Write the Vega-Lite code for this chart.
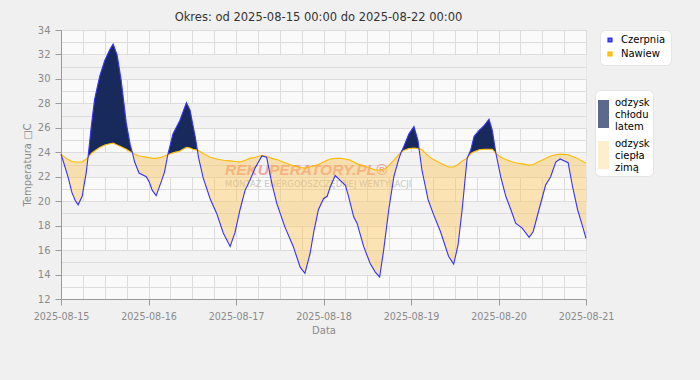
{
  "$schema": "https://vega.github.io/schema/vega-lite/v6.json",
  "width": 525,
  "height": 269,
  "autosize": {"type": "none"},
  "padding": {"left": 61, "top": 30, "right": 114, "bottom": 81},
  "background": "#f0f0f0",
  "config": {
    "font": "DejaVu Sans",
    "view": {"fill": "#fafafa", "stroke": null},
    "axis": {
      "domainColor": "#9a9a9a",
      "tickColor": "#9a9a9a",
      "labelColor": "#8a8a8a",
      "titleColor": "#8a8a8a",
      "gridColor": "#dcdcdc",
      "labelFontSize": 10,
      "titleFontSize": 10,
      "titleFontWeight": "normal",
      "tickSize": 6
    }
  },
  "title": {
    "text": "Okres: od 2025-08-15 00:00 do 2025-08-22 00:00",
    "fontSize": 11.5,
    "fontWeight": "normal",
    "color": "#333333",
    "anchor": "middle",
    "offset": 2,
    "dx": -5
  },
  "data": {
    "values": [
      {"czas": "2025-08-15T00:00", "czerpnia": 23.85, "nawiew": 23.85, "seg": 1, "rodzaj": "odzysk ciepła zimą"},
      {"czas": "2025-08-15T01:00", "czerpnia": 22.9, "nawiew": 23.6, "seg": 1, "rodzaj": "odzysk ciepła zimą"},
      {"czas": "2025-08-15T02:00", "czerpnia": 21.9, "nawiew": 23.4, "seg": 1, "rodzaj": "odzysk ciepła zimą"},
      {"czas": "2025-08-15T03:00", "czerpnia": 20.7, "nawiew": 23.25, "seg": 1, "rodzaj": "odzysk ciepła zimą"},
      {"czas": "2025-08-15T04:00", "czerpnia": 20.0, "nawiew": 23.2, "seg": 1, "rodzaj": "odzysk ciepła zimą"},
      {"czas": "2025-08-15T04:42", "czerpnia": 19.7, "nawiew": 23.2, "seg": 1, "rodzaj": "odzysk ciepła zimą"},
      {"czas": "2025-08-15T05:48", "czerpnia": 20.4, "nawiew": 23.2, "seg": 1, "rodzaj": "odzysk ciepła zimą"},
      {"czas": "2025-08-15T06:54", "czerpnia": 22.3, "nawiew": 23.45, "seg": 1, "rodzaj": "odzysk ciepła zimą"},
      {"czas": "2025-08-15T07:24", "czerpnia": 23.55, "nawiew": 23.55, "seg": 1, "rodzaj": "odzysk ciepła zimą"},

      {"czas": "2025-08-15T07:24", "czerpnia": 23.55, "nawiew": 23.55, "seg": 2, "rodzaj": "odzysk chłodu latem"},
      {"czas": "2025-08-15T08:18", "czerpnia": 26.1, "nawiew": 23.9, "seg": 2, "rodzaj": "odzysk chłodu latem"},
      {"czas": "2025-08-15T09:12", "czerpnia": 28.3, "nawiew": 24.1, "seg": 2, "rodzaj": "odzysk chłodu latem"},
      {"czas": "2025-08-15T10:36", "czerpnia": 30.2, "nawiew": 24.4, "seg": 2, "rodzaj": "odzysk chłodu latem"},
      {"czas": "2025-08-15T12:00", "czerpnia": 31.5, "nawiew": 24.6, "seg": 2, "rodzaj": "odzysk chłodu latem"},
      {"czas": "2025-08-15T13:24", "czerpnia": 32.4, "nawiew": 24.7, "seg": 2, "rodzaj": "odzysk chłodu latem"},
      {"czas": "2025-08-15T14:18", "czerpnia": 32.85, "nawiew": 24.75, "seg": 2, "rodzaj": "odzysk chłodu latem"},
      {"czas": "2025-08-15T15:24", "czerpnia": 31.95, "nawiew": 24.6, "seg": 2, "rodzaj": "odzysk chłodu latem"},
      {"czas": "2025-08-15T16:30", "czerpnia": 29.9, "nawiew": 24.45, "seg": 2, "rodzaj": "odzysk chłodu latem"},
      {"czas": "2025-08-15T17:54", "czerpnia": 26.4, "nawiew": 24.25, "seg": 2, "rodzaj": "odzysk chłodu latem"},
      {"czas": "2025-08-15T19:00", "czerpnia": 24.6, "nawiew": 24.05, "seg": 2, "rodzaj": "odzysk chłodu latem"},
      {"czas": "2025-08-15T19:36", "czerpnia": 23.95, "nawiew": 23.95, "seg": 2, "rodzaj": "odzysk chłodu latem"},

      {"czas": "2025-08-15T19:36", "czerpnia": 23.95, "nawiew": 23.95, "seg": 3, "rodzaj": "odzysk ciepła zimą"},
      {"czas": "2025-08-15T20:12", "czerpnia": 23.2, "nawiew": 23.85, "seg": 3, "rodzaj": "odzysk ciepła zimą"},
      {"czas": "2025-08-15T21:24", "czerpnia": 22.3, "nawiew": 23.7, "seg": 3, "rodzaj": "odzysk ciepła zimą"},
      {"czas": "2025-08-15T23:24", "czerpnia": 22.0, "nawiew": 23.6, "seg": 3, "rodzaj": "odzysk ciepła zimą"},
      {"czas": "2025-08-16T00:18", "czerpnia": 21.5, "nawiew": 23.55, "seg": 3, "rodzaj": "odzysk ciepła zimą"},
      {"czas": "2025-08-16T01:00", "czerpnia": 20.9, "nawiew": 23.5, "seg": 3, "rodzaj": "odzysk ciepła zimą"},
      {"czas": "2025-08-16T02:06", "czerpnia": 20.45, "nawiew": 23.5, "seg": 3, "rodzaj": "odzysk ciepła zimą"},
      {"czas": "2025-08-16T03:30", "czerpnia": 21.6, "nawiew": 23.6, "seg": 3, "rodzaj": "odzysk ciepła zimą"},
      {"czas": "2025-08-16T04:24", "czerpnia": 22.4, "nawiew": 23.7, "seg": 3, "rodzaj": "odzysk ciepła zimą"},
      {"czas": "2025-08-16T05:18", "czerpnia": 23.8, "nawiew": 23.8, "seg": 3, "rodzaj": "odzysk ciepła zimą"},

      {"czas": "2025-08-16T05:18", "czerpnia": 23.8, "nawiew": 23.8, "seg": 4, "rodzaj": "odzysk chłodu latem"},
      {"czas": "2025-08-16T06:42", "czerpnia": 25.5, "nawiew": 23.95, "seg": 4, "rodzaj": "odzysk chłodu latem"},
      {"czas": "2025-08-16T08:36", "czerpnia": 26.6, "nawiew": 24.1, "seg": 4, "rodzaj": "odzysk chłodu latem"},
      {"czas": "2025-08-16T10:24", "czerpnia": 28.05, "nawiew": 24.4, "seg": 4, "rodzaj": "odzysk chłodu latem"},
      {"czas": "2025-08-16T11:24", "czerpnia": 27.45, "nawiew": 24.35, "seg": 4, "rodzaj": "odzysk chłodu latem"},
      {"czas": "2025-08-16T12:12", "czerpnia": 26.2, "nawiew": 24.25, "seg": 4, "rodzaj": "odzysk chłodu latem"},
      {"czas": "2025-08-16T12:48", "czerpnia": 25.3, "nawiew": 24.2, "seg": 4, "rodzaj": "odzysk chłodu latem"},
      {"czas": "2025-08-16T13:24", "czerpnia": 24.2, "nawiew": 24.2, "seg": 4, "rodzaj": "odzysk chłodu latem"},

      {"czas": "2025-08-16T13:24", "czerpnia": 24.2, "nawiew": 24.2, "seg": 5, "rodzaj": "odzysk ciepła zimą"},
      {"czas": "2025-08-16T13:42", "czerpnia": 23.6, "nawiew": 24.15, "seg": 5, "rodzaj": "odzysk ciepła zimą"},
      {"czas": "2025-08-16T15:00", "czerpnia": 21.9, "nawiew": 23.9, "seg": 5, "rodzaj": "odzysk ciepła zimą"},
      {"czas": "2025-08-16T16:54", "czerpnia": 20.2, "nawiew": 23.6, "seg": 5, "rodzaj": "odzysk ciepła zimą"},
      {"czas": "2025-08-16T18:42", "czerpnia": 19.0, "nawiew": 23.45, "seg": 5, "rodzaj": "odzysk ciepła zimą"},
      {"czas": "2025-08-16T20:30", "czerpnia": 17.4, "nawiew": 23.35, "seg": 5, "rodzaj": "odzysk ciepła zimą"},
      {"czas": "2025-08-16T22:24", "czerpnia": 16.3, "nawiew": 23.3, "seg": 5, "rodzaj": "odzysk ciepła zimą"},
      {"czas": "2025-08-16T23:42", "czerpnia": 17.4, "nawiew": 23.25, "seg": 5, "rodzaj": "odzysk ciepła zimą"},
      {"czas": "2025-08-17T01:06", "czerpnia": 19.3, "nawiew": 23.2, "seg": 5, "rodzaj": "odzysk ciepła zimą"},
      {"czas": "2025-08-17T02:30", "czerpnia": 20.9, "nawiew": 23.35, "seg": 5, "rodzaj": "odzysk ciepła zimą"},
      {"czas": "2025-08-17T03:48", "czerpnia": 21.7, "nawiew": 23.5, "seg": 5, "rodzaj": "odzysk ciepła zimą"},
      {"czas": "2025-08-17T05:12", "czerpnia": 22.7, "nawiew": 23.6, "seg": 5, "rodzaj": "odzysk ciepła zimą"},
      {"czas": "2025-08-17T07:06", "czerpnia": 23.7, "nawiew": 23.75, "seg": 5, "rodzaj": "odzysk ciepła zimą"},
      {"czas": "2025-08-17T08:24", "czerpnia": 23.6, "nawiew": 23.65, "seg": 5, "rodzaj": "odzysk ciepła zimą"},
      {"czas": "2025-08-17T09:48", "czerpnia": 21.5, "nawiew": 23.5, "seg": 5, "rodzaj": "odzysk ciepła zimą"},
      {"czas": "2025-08-17T11:12", "czerpnia": 19.8, "nawiew": 23.4, "seg": 5, "rodzaj": "odzysk ciepła zimą"},
      {"czas": "2025-08-17T13:24", "czerpnia": 17.9, "nawiew": 23.15, "seg": 5, "rodzaj": "odzysk ciepła zimą"},
      {"czas": "2025-08-17T15:42", "czerpnia": 16.3, "nawiew": 22.9, "seg": 5, "rodzaj": "odzysk ciepła zimą"},
      {"czas": "2025-08-17T17:36", "czerpnia": 14.6, "nawiew": 22.75, "seg": 5, "rodzaj": "odzysk ciepła zimą"},
      {"czas": "2025-08-17T18:54", "czerpnia": 14.1, "nawiew": 22.7, "seg": 5, "rodzaj": "odzysk ciepła zimą"},
      {"czas": "2025-08-17T20:18", "czerpnia": 15.7, "nawiew": 22.8, "seg": 5, "rodzaj": "odzysk ciepła zimą"},
      {"czas": "2025-08-17T21:24", "czerpnia": 17.6, "nawiew": 22.9, "seg": 5, "rodzaj": "odzysk ciepła zimą"},
      {"czas": "2025-08-17T22:36", "czerpnia": 19.3, "nawiew": 23.0, "seg": 5, "rodzaj": "odzysk ciepła zimą"},
      {"czas": "2025-08-18T00:00", "czerpnia": 20.2, "nawiew": 23.2, "seg": 5, "rodzaj": "odzysk ciepła zimą"},
      {"czas": "2025-08-18T01:00", "czerpnia": 20.4, "nawiew": 23.35, "seg": 5, "rodzaj": "odzysk ciepła zimą"},
      {"czas": "2025-08-18T01:54", "czerpnia": 21.2, "nawiew": 23.45, "seg": 5, "rodzaj": "odzysk ciepła zimą"},
      {"czas": "2025-08-18T03:12", "czerpnia": 22.1, "nawiew": 23.5, "seg": 5, "rodzaj": "odzysk ciepła zimą"},
      {"czas": "2025-08-18T04:36", "czerpnia": 21.7, "nawiew": 23.5, "seg": 5, "rodzaj": "odzysk ciepła zimą"},
      {"czas": "2025-08-18T06:00", "czerpnia": 21.3, "nawiew": 23.45, "seg": 5, "rodzaj": "odzysk ciepła zimą"},
      {"czas": "2025-08-18T06:54", "czerpnia": 20.35, "nawiew": 23.4, "seg": 5, "rodzaj": "odzysk ciepła zimą"},
      {"czas": "2025-08-18T08:18", "czerpnia": 18.7, "nawiew": 23.2, "seg": 5, "rodzaj": "odzysk ciepła zimą"},
      {"czas": "2025-08-18T09:12", "czerpnia": 18.2, "nawiew": 23.05, "seg": 5, "rodzaj": "odzysk ciepła zimą"},
      {"czas": "2025-08-18T11:00", "czerpnia": 16.3, "nawiew": 22.9, "seg": 5, "rodzaj": "odzysk ciepła zimą"},
      {"czas": "2025-08-18T12:48", "czerpnia": 14.9, "nawiew": 22.7, "seg": 5, "rodzaj": "odzysk ciepła zimą"},
      {"czas": "2025-08-18T14:12", "czerpnia": 14.2, "nawiew": 22.55, "seg": 5, "rodzaj": "odzysk ciepła zimą"},
      {"czas": "2025-08-18T15:24", "czerpnia": 13.8, "nawiew": 22.55, "seg": 5, "rodzaj": "odzysk ciepła zimą"},
      {"czas": "2025-08-18T16:30", "czerpnia": 16.0, "nawiew": 22.55, "seg": 5, "rodzaj": "odzysk ciepła zimą"},
      {"czas": "2025-08-18T17:54", "czerpnia": 19.3, "nawiew": 22.9, "seg": 5, "rodzaj": "odzysk ciepła zimą"},
      {"czas": "2025-08-18T19:18", "czerpnia": 22.0, "nawiew": 23.35, "seg": 5, "rodzaj": "odzysk ciepła zimą"},
      {"czas": "2025-08-18T20:36", "czerpnia": 23.4, "nawiew": 23.8, "seg": 5, "rodzaj": "odzysk ciepła zimą"},
      {"czas": "2025-08-18T21:18", "czerpnia": 24.0, "nawiew": 24.0, "seg": 5, "rodzaj": "odzysk ciepła zimą"},

      {"czas": "2025-08-18T21:18", "czerpnia": 24.0, "nawiew": 24.0, "seg": 6, "rodzaj": "odzysk chłodu latem"},
      {"czas": "2025-08-18T22:00", "czerpnia": 24.45, "nawiew": 24.15, "seg": 6, "rodzaj": "odzysk chłodu latem"},
      {"czas": "2025-08-18T23:24", "czerpnia": 25.5, "nawiew": 24.3, "seg": 6, "rodzaj": "odzysk chłodu latem"},
      {"czas": "2025-08-19T00:48", "czerpnia": 26.1, "nawiew": 24.35, "seg": 6, "rodzaj": "odzysk chłodu latem"},
      {"czas": "2025-08-19T01:54", "czerpnia": 25.0, "nawiew": 24.3, "seg": 6, "rodzaj": "odzysk chłodu latem"},
      {"czas": "2025-08-19T02:12", "czerpnia": 24.3, "nawiew": 24.3, "seg": 6, "rodzaj": "odzysk chłodu latem"},

      {"czas": "2025-08-19T02:12", "czerpnia": 24.3, "nawiew": 24.3, "seg": 7, "rodzaj": "odzysk ciepła zimą"},
      {"czas": "2025-08-19T03:00", "czerpnia": 22.55, "nawiew": 24.2, "seg": 7, "rodzaj": "odzysk ciepła zimą"},
      {"czas": "2025-08-19T04:42", "czerpnia": 20.1, "nawiew": 23.7, "seg": 7, "rodzaj": "odzysk ciepła zimą"},
      {"czas": "2025-08-19T06:12", "czerpnia": 18.9, "nawiew": 23.4, "seg": 7, "rodzaj": "odzysk ciepła zimą"},
      {"czas": "2025-08-19T08:06", "czerpnia": 17.5, "nawiew": 23.1, "seg": 7, "rodzaj": "odzysk ciepła zimą"},
      {"czas": "2025-08-19T10:18", "czerpnia": 15.5, "nawiew": 22.8, "seg": 7, "rodzaj": "odzysk ciepła zimą"},
      {"czas": "2025-08-19T11:42", "czerpnia": 14.85, "nawiew": 22.8, "seg": 7, "rodzaj": "odzysk ciepła zimą"},
      {"czas": "2025-08-19T12:54", "czerpnia": 16.4, "nawiew": 23.0, "seg": 7, "rodzaj": "odzysk ciepła zimą"},
      {"czas": "2025-08-19T14:06", "czerpnia": 19.5, "nawiew": 23.3, "seg": 7, "rodzaj": "odzysk ciepła zimą"},
      {"czas": "2025-08-19T15:00", "czerpnia": 22.3, "nawiew": 23.45, "seg": 7, "rodzaj": "odzysk ciepła zimą"},
      {"czas": "2025-08-19T15:24", "czerpnia": 23.5, "nawiew": 23.5, "seg": 7, "rodzaj": "odzysk ciepła zimą"},

      {"czas": "2025-08-19T15:24", "czerpnia": 23.5, "nawiew": 23.5, "seg": 8, "rodzaj": "odzysk chłodu latem"},
      {"czas": "2025-08-19T16:24", "czerpnia": 24.2, "nawiew": 23.9, "seg": 8, "rodzaj": "odzysk chłodu latem"},
      {"czas": "2025-08-19T17:18", "czerpnia": 25.3, "nawiew": 24.05, "seg": 8, "rodzaj": "odzysk chłodu latem"},
      {"czas": "2025-08-19T18:42", "czerpnia": 25.8, "nawiew": 24.2, "seg": 8, "rodzaj": "odzysk chłodu latem"},
      {"czas": "2025-08-19T20:06", "czerpnia": 26.2, "nawiew": 24.25, "seg": 8, "rodzaj": "odzysk chłodu latem"},
      {"czas": "2025-08-19T21:24", "czerpnia": 26.7, "nawiew": 24.25, "seg": 8, "rodzaj": "odzysk chłodu latem"},
      {"czas": "2025-08-19T22:18", "czerpnia": 25.8, "nawiew": 24.25, "seg": 8, "rodzaj": "odzysk chłodu latem"},
      {"czas": "2025-08-19T23:18", "czerpnia": 23.9, "nawiew": 23.9, "seg": 8, "rodzaj": "odzysk chłodu latem"},

      {"czas": "2025-08-19T23:18", "czerpnia": 23.9, "nawiew": 23.9, "seg": 9, "rodzaj": "odzysk ciepła zimą"},
      {"czas": "2025-08-20T00:36", "czerpnia": 22.0, "nawiew": 23.6, "seg": 9, "rodzaj": "odzysk ciepła zimą"},
      {"czas": "2025-08-20T02:00", "czerpnia": 20.4, "nawiew": 23.4, "seg": 9, "rodzaj": "odzysk ciepła zimą"},
      {"czas": "2025-08-20T03:24", "czerpnia": 19.3, "nawiew": 23.25, "seg": 9, "rodzaj": "odzysk ciepła zimą"},
      {"czas": "2025-08-20T04:42", "czerpnia": 18.2, "nawiew": 23.15, "seg": 9, "rodzaj": "odzysk ciepła zimą"},
      {"czas": "2025-08-20T06:30", "czerpnia": 17.8, "nawiew": 23.05, "seg": 9, "rodzaj": "odzysk ciepła zimą"},
      {"czas": "2025-08-20T08:24", "czerpnia": 17.05, "nawiew": 22.95, "seg": 9, "rodzaj": "odzysk ciepła zimą"},
      {"czas": "2025-08-20T09:30", "czerpnia": 17.5, "nawiew": 23.0, "seg": 9, "rodzaj": "odzysk ciepła zimą"},
      {"czas": "2025-08-20T11:06", "czerpnia": 19.3, "nawiew": 23.25, "seg": 9, "rodzaj": "odzysk ciepła zimą"},
      {"czas": "2025-08-20T12:54", "czerpnia": 21.3, "nawiew": 23.5, "seg": 9, "rodzaj": "odzysk ciepła zimą"},
      {"czas": "2025-08-20T14:18", "czerpnia": 22.0, "nawiew": 23.7, "seg": 9, "rodzaj": "odzysk ciepła zimą"},
      {"czas": "2025-08-20T15:42", "czerpnia": 23.2, "nawiew": 23.8, "seg": 9, "rodzaj": "odzysk ciepła zimą"},
      {"czas": "2025-08-20T16:54", "czerpnia": 23.45, "nawiew": 23.85, "seg": 9, "rodzaj": "odzysk ciepła zimą"},
      {"czas": "2025-08-20T19:06", "czerpnia": 23.15, "nawiew": 23.8, "seg": 9, "rodzaj": "odzysk ciepła zimą"},
      {"czas": "2025-08-20T20:18", "czerpnia": 21.2, "nawiew": 23.65, "seg": 9, "rodzaj": "odzysk ciepła zimą"},
      {"czas": "2025-08-20T21:42", "czerpnia": 19.3, "nawiew": 23.5, "seg": 9, "rodzaj": "odzysk ciepła zimą"},
      {"czas": "2025-08-20T23:06", "czerpnia": 17.9, "nawiew": 23.25, "seg": 9, "rodzaj": "odzysk ciepła zimą"},
      {"czas": "2025-08-21T00:00", "czerpnia": 16.95, "nawiew": 23.1, "seg": 9, "rodzaj": "odzysk ciepła zimą"}
    ]
  },
  "layer": [
    {
      "data": {"values": [{"napis": "REKUPERATORY.PL®"}]},
      "mark": {"type": "text", "align": "left", "baseline": "alphabetic", "font": "Liberation Sans, sans-serif", "fontSize": 15.5, "fontWeight": "bold", "fontStyle": "italic", "color": "#f06a5f", "opacity": 0.55},
      "encoding": {
        "x": {"datum": {"year": 2025, "month": 8, "date": 16, "hours": 21}, "type": "temporal",
          "scale": {"domain": [{"year": 2025, "month": 8, "date": 15}, {"year": 2025, "month": 8, "date": 21}]},
          "axis": {"orient": "top", "values": [
            {"year": 2025, "month": 8, "date": 15, "hours": 6}, {"year": 2025, "month": 8, "date": 15, "hours": 12}, {"year": 2025, "month": 8, "date": 15, "hours": 18},
            {"year": 2025, "month": 8, "date": 16, "hours": 6}, {"year": 2025, "month": 8, "date": 16, "hours": 12}, {"year": 2025, "month": 8, "date": 16, "hours": 18},
            {"year": 2025, "month": 8, "date": 17, "hours": 6}, {"year": 2025, "month": 8, "date": 17, "hours": 12}, {"year": 2025, "month": 8, "date": 17, "hours": 18},
            {"year": 2025, "month": 8, "date": 18, "hours": 6}, {"year": 2025, "month": 8, "date": 18, "hours": 12}, {"year": 2025, "month": 8, "date": 18, "hours": 18},
            {"year": 2025, "month": 8, "date": 19, "hours": 6}, {"year": 2025, "month": 8, "date": 19, "hours": 12}, {"year": 2025, "month": 8, "date": 19, "hours": 18},
            {"year": 2025, "month": 8, "date": 20, "hours": 6}, {"year": 2025, "month": 8, "date": 20, "hours": 12}, {"year": 2025, "month": 8, "date": 20, "hours": 18}],
            "grid": true, "domain": false, "ticks": false, "labels": false, "title": null}},
        "y": {"datum": 22.14, "type": "quantitative", "scale": {"domain": [12, 34], "nice": false, "zero": false},
          "axis": {"orient": "right", "values": [15, 19, 23, 27, 31], "grid": true, "gridWidth": 24.45, "gridColor": "#f2f2f2", "domain": false, "ticks": false, "labels": false, "title": null}},
        "text": {"field": "napis"}
      }
    },
    {
      "data": {"values": [{"napis": "MONTAŻ ENERGOOSZCZĘDNEJ WENTYLACJI"}]},
      "mark": {"type": "text", "align": "left", "baseline": "alphabetic", "fontSize": 8.5, "color": "#b8b8b8", "opacity": 0.8},
      "encoding": {
        "x": {"datum": {"year": 2025, "month": 8, "date": 16, "hours": 21}, "type": "temporal",
          "scale": {"domain": [{"year": 2025, "month": 8, "date": 15}, {"year": 2025, "month": 8, "date": 21}]}, "axis": null},
        "y": {"datum": 21.16, "type": "quantitative", "scale": {"domain": [12, 34], "nice": false, "zero": false},
          "axis": {"orient": "right", "values": [13, 15, 17, 19, 21, 23, 25, 27, 29, 31, 33], "grid": true, "domain": false, "ticks": false, "labels": false, "title": null}},
        "text": {"field": "napis"}
      }
    },
    {
      "mark": {"type": "area"},
      "encoding": {
        "x": {"field": "czas", "type": "temporal", "scale": {"domain": [{"year": 2025, "month": 8, "date": 15}, {"year": 2025, "month": 8, "date": 21}]},
          "axis": {"orient": "bottom", "values": [
            {"year": 2025, "month": 8, "date": 15}, {"year": 2025, "month": 8, "date": 16}, {"year": 2025, "month": 8, "date": 17},
            {"year": 2025, "month": 8, "date": 18}, {"year": 2025, "month": 8, "date": 19}, {"year": 2025, "month": 8, "date": 20},
            {"year": 2025, "month": 8, "date": 21}],
            "grid": true, "format": "%Y-%m-%d", "labelFlush": false, "labelOverlap": false, "labelFontSize": 9.6, "labelPadding": 6, "title": "Data", "titlePadding": 5}},
        "y": {"field": "czerpnia", "type": "quantitative", "scale": {"domain": [12, 34], "nice": false, "zero": false},
          "axis": {"orient": "left", "values": [12, 14, 16, 18, 20, 22, 24, 26, 28, 30, 32, 34], "grid": true, "labelPadding": 5, "title": "Temperatura □C", "titlePadding": 5}},
        "y2": {"field": "nawiew"},
        "fill": {"field": "rodzaj", "type": "nominal",
          "scale": {"domain": ["odzysk chłodu latem", "odzysk ciepła zimą"], "range": ["#172a5b", "rgba(255,196,80,0.42)"]},
          "legend": {"title": null, "orient": "none", "legendX": 534, "legendY": 60, "fillColor": "white", "strokeColor": "#e4e4e4", "cornerRadius": 5, "padding": 3,
            "symbolType": "M-0.55,-0.3H0.55V2.5H-0.55Z", "symbolSize": 400, "symbolOpacity": 0.7, "symbolStrokeWidth": 0, "symbolOffset": -4.5,
            "labelOffset": 1.5, "labelFontSize": 10, "labelColor": "#000000", "rowPadding": 2,
            "labelExpr": "datum.label == 'odzysk chłodu latem' ? ['odzysk', 'chłodu', 'latem'] : ['odzysk', 'ciepła', 'zimą']"}},
        "detail": {"field": "seg", "type": "nominal"}
      }
    },
    {
      "mark": {"type": "line", "strokeWidth": 1.1},
      "encoding": {
        "x": {"field": "czas", "type": "temporal", "axis": null},
        "y": {"field": "nawiew", "type": "quantitative", "axis": null},
        "color": {"datum": "Nawiew", "type": "nominal",
          "scale": {"domain": ["Czerpnia", "Nawiew"], "range": ["#3535f5", "#ffbb00"]},
          "legend": {"title": null, "orient": "none", "legendX": 539, "legendY": 0, "fillColor": "white", "strokeColor": "#e4e4e4", "cornerRadius": 5, "padding": 5,
            "symbolType": "square", "symbolSize": 9, "symbolStrokeWidth": 2.2, "labelFontSize": 10, "labelColor": "#000000", "rowPadding": 2, "labelOffset": 6}}
      }
    },
    {
      "mark": {"type": "line", "strokeWidth": 1.1},
      "encoding": {
        "x": {"field": "czas", "type": "temporal", "axis": null},
        "y": {"field": "czerpnia", "type": "quantitative", "axis": null},
        "color": {"datum": "Czerpnia", "type": "nominal"}
      }
    }
  ],
  "resolve": {"axis": {"x": "independent", "y": "independent"}}
}
